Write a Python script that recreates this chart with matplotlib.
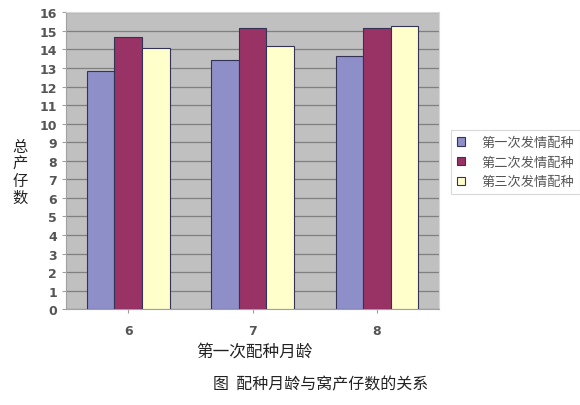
import numpy as np
import matplotlib.pyplot as plt

plt.rcParams['font.family'] = ['Noto Sans CJK SC', 'DejaVu Sans']

months = ['6', '7', '8']
series_names = ['第一次发情配种', '第二次发情配种', '第三次发情配种']
first_estrus = [12.85, 13.43, 13.65]
second_estrus = [14.69, 15.16, 15.17]
third_estrus = [14.07, 14.17, 15.28]
y_ticks = list(range(0, 17))

colors = ['#8e8ec8', '#993366', '#ffffcc']
edge = '#333355'

fig = plt.figure(figsize=(5.8, 4.06), dpi=100)
ax = fig.add_axes([0.114, 0.236, 0.643, 0.731])
ax.set_facecolor('#c0c0c0')

x = np.arange(len(months))
w = 0.222
for i, (vals, name) in enumerate(zip([first_estrus, second_estrus, third_estrus], series_names)):
    ax.bar(x + (i - 1) * w, vals, width=w, color=colors[i], edgecolor=edge,
           linewidth=0.8, label=name, zorder=3)

ax.set_xlim(-0.5, 2.5)
ax.set_ylim(0, 16)
ax.set_yticks(y_ticks)
ax.set_xticks(x)
ax.set_xticklabels(months)
ax.yaxis.grid(True, color='#808080', linewidth=0.9, zorder=0)
ax.set_axisbelow(True)
for side in ['top', 'right']:
    ax.spines[side].set_color('#d8d8d8')
for side in ['left', 'bottom']:
    ax.spines[side].set_color('#a0a0a0')
ax.tick_params(axis='both', labelsize=9, colors='#a0a0a0', labelcolor='#555555', length=3)
ax.tick_params(axis='x', pad=8)
for lab in ax.get_xticklabels() + ax.get_yticklabels():
    lab.set_family('DejaVu Sans')
    lab.set_fontweight('bold')

leg = ax.legend(loc='center left', bbox_to_anchor=(1.015, 0.495), frameon=True,
                fontsize=9.5, handlelength=0.6, handleheight=0.6, borderpad=0.45,
                labelspacing=0.5, handletextpad=1.2, fancybox=False)
leg.get_frame().set_edgecolor('#d0d0d0')
leg.get_frame().set_linewidth(0.8)
for t in leg.get_texts():
    t.set_color('#555555')

fig.text(0.035, 0.575, '总\n产\n仔\n数', fontsize=11, ha='center', va='center',
         linespacing=1.0, color='#222222')
fig.text(0.438, 0.133, '第一次配种月龄', fontsize=12, ha='center', va='center', color='#222222')
fig.text(0.553, 0.052, '图  配种月龄与窝产仔数的关系', fontsize=11.5, ha='center', va='center',
         color='#222222')

fig.savefig('out.png', dpi=100)
